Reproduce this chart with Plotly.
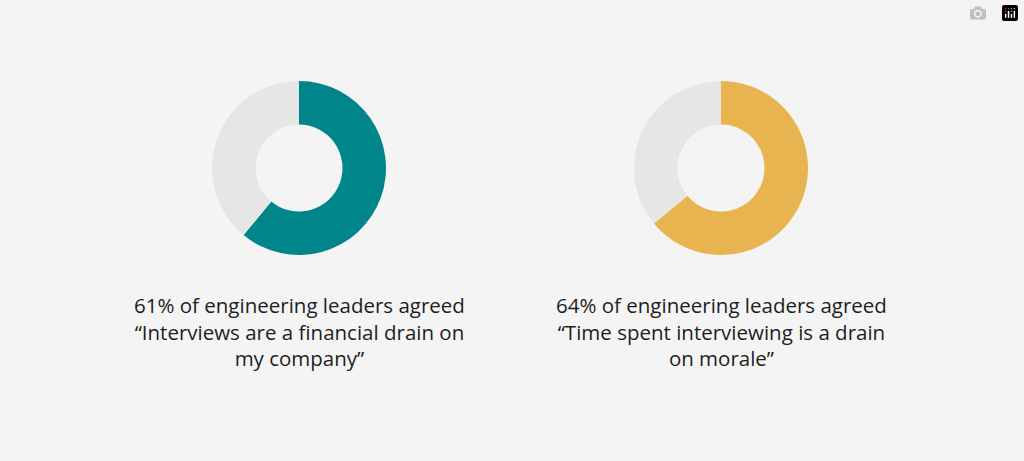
import plotly.graph_objects as go

labels = ["Agreed", "Other"]
financial = [61, 39]
morale = [64, 36]
captions = [
    "61% of engineering leaders agreed<br>“Interviews are a financial drain on<br>my company”",
    "64% of engineering leaders agreed<br>“Time spent interviewing is a drain<br>on morale”",
]
colors = [["#00858a", "#e6e6e4"], ["#e8b44f", "#e6e6e4"]]

W, H = 1024, 461
centers = [299, 721]
cy, r = 168, 87

fig = go.Figure()
for i, vals in enumerate([financial, morale]):
    cx = centers[i]
    fig.add_trace(go.Pie(
        labels=labels, values=vals, hole=0.5, sort=False, direction="clockwise",
        rotation=0, marker=dict(colors=colors[i], line=dict(width=0)),
        textinfo="none", hoverinfo="label+percent", showlegend=False,
        domain=dict(x=[(cx - r) / W, (cx + r) / W], y=[1 - (cy + r) / H, 1 - (cy - r) / H]),
    ))
    fig.add_annotation(
        text=captions[i], x=cx / W, y=1 - 289 / H, xref="paper", yref="paper",
        xanchor="center", yanchor="top", showarrow=False, align="center",
        font=dict(family="Open Sans", size=20.5, color="#1e1e1e"),
    )

fig.update_layout(
    width=W, height=H, margin=dict(l=0, r=0, t=0, b=0),
    paper_bgcolor="#f4f4f4", plot_bgcolor="#f4f4f4",
)
fig.write_html("out.html", post_script="document.body.style.margin='0';document.body.style.background='#f4f4f4';")
